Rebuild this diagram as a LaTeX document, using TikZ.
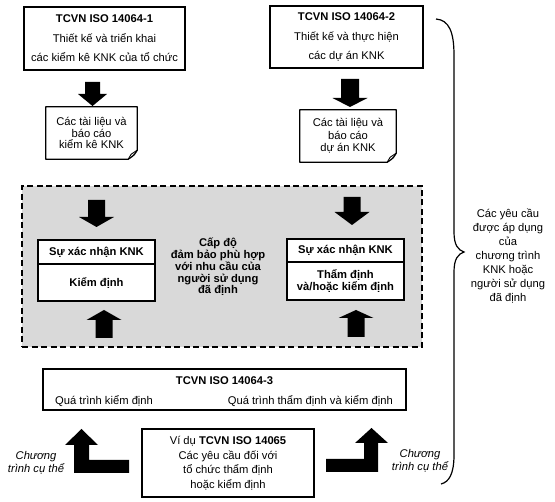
\documentclass[tikz,border=0pt]{standalone}
\usepackage{fontspec}
\setmainfont{Liberation Sans}
\newcommand\varrow[6]{%
  \fill[black] ({#1-#5/2},#2) -- ({#1-#5/2},#3) -- ({#1-#6/2},#3) -- (#1,#4) -- ({#1+#6/2},#3) -- ({#1+#5/2},#3) -- ({#1+#5/2},#2) -- cycle;}
\newcommand\docshape[1]{%
  \draw[line width=1.3pt, line join=round] (#1.north west) -- (#1.north east) -- ([yshift=9pt]#1.south east)
     .. controls ([xshift=-3pt,yshift=4pt]#1.south east) .. ([xshift=-9pt]#1.south east) -- (#1.south west) -- cycle;
  \draw[line width=0.9pt] ([xshift=-9pt]#1.south east) -- ([xshift=-6pt,yshift=5pt]#1.south east) -- ([yshift=9pt]#1.south east);}
\begin{document}
\begin{tikzpicture}[x=1pt,y=-1pt,
  every node/.style={inner sep=0pt, font=\fontsize{11.2}{12}\selectfont},
  frame/.style={draw, line width=1.4pt, fill=white, align=center},
  docnode/.style={align=center},
  ital/.style={align=center, font=\fontsize{11.2}{12.5}\selectfont\itshape}]
\useasboundingbox (0,0) rectangle (555,502);

% top boxes
\node[frame, minimum width=161pt, minimum height=63pt, font=\fontsize{11.2}{19.5}\selectfont] (b1) at (104.5,38.5)
  {\textbf{TCVN ISO 14064-1}\\Thiết kế và triển khai\\các kiểm kê KNK của tổ chức};
\node[frame, minimum width=153pt, minimum height=62pt, font=\fontsize{11.2}{19.5}\selectfont] (b2) at (346.5,37)
  {\textbf{TCVN ISO 14064-2}\\Thiết kế và thực hiện\\các dự án KNK};

% arrows to documents
\varrow{92.5}{82}{94}{106}{15}{29}
\varrow{350}{79}{98}{107}{18}{35}

% documents
\node[docnode, minimum width=91pt, minimum height=52pt, font=\fontsize{11.2}{11.5}\selectfont] (d1) at (91.5,133)
  {Các tài liệu và\\báo cáo\\kiểm kê KNK};
\docshape{d1}
\node[docnode, minimum width=96pt, minimum height=52pt, font=\fontsize{11.2}{12.5}\selectfont] (d2) at (348,136)
  {Các tài liệu và\\báo cáo\\dự án KNK};
\docshape{d2}

% dashed zone
\node[draw, dash pattern=on 6pt off 3.5pt, line width=1.4pt, fill=black!15,
      minimum width=400pt, minimum height=161pt] (zone) at (222,266.5) {};

\varrow{96.5}{200}{217}{227}{17}{35}
\varrow{352}{197}{212}{225}{17}{35}
\varrow{104}{338}{320}{310}{17}{35}
\varrow{356}{337}{318}{310}{17}{35}

\node[frame, minimum width=117pt, minimum height=24pt] (v1) at (96.5,252) {\textbf{Sự xác nhận KNK}};
\node[frame, minimum width=117pt, minimum height=37pt] (k1) at (96.5,282.5) {\textbf{Kiểm định}};
\node[frame, minimum width=117pt, minimum height=23pt] (v2) at (345.5,250.5) {\textbf{Sự xác nhận KNK}};
\node[frame, minimum width=117pt, minimum height=38pt] (k2) at (345.5,281) {\textbf{Thẩm định}\\\textbf{và/hoặc kiểm định}};

\node[align=center, font=\fontsize{11.2}{11.8}\selectfont\bfseries] (lvl) at (218,267)
  {Cấp độ\\đảm bảo phù hợp\\với nhu cầu của\\người sử dụng\\đã định};

% TCVN ISO 14064-3
\node[frame, minimum width=363pt, minimum height=41pt] (b3) at (224.5,389.5) {};
\node[anchor=center] (b3t) at (224.5,381) {\textbf{TCVN ISO 14064-3}};
\node[anchor=west] (b3l) at (55,401) {Quá trình kiểm định};
\node[anchor=east] (b3r) at (393,401) {Quá trình thẩm định và kiểm định};

% TCVN ISO 14065
\node[frame, minimum width=172pt, minimum height=68pt, font=\fontsize{11.2}{14.5}\selectfont] (b4) at (228,463)
  {Ví dụ \textbf{TCVN ISO 14065}\\Các yêu cầu đối với\\tổ chức thẩm định\\hoặc kiểm định};

% L-shaped arrows
\fill[black] (129,460) -- (89,460) -- (89,445) -- (98,445) -- (81.5,429) -- (65,445) -- (74,445) -- (74,473) -- (129,473) -- cycle;
\fill[black] (326,459) -- (364,459) -- (364,443) -- (355,443) -- (371.5,428) -- (388,443) -- (378,443) -- (378,472) -- (326,472) -- cycle;

\node[ital] (pl) at (36,463) {Chương\\trình cụ thể};
\node[ital] (pr) at (420,461) {Chương\\trình cụ thể};

% brace
\draw[line width=1.2pt] (436,19) .. controls (449,20) and (454,32) .. (454,55) -- (454,232)
  .. controls (454,245) and (458,250) .. (464,252)
  .. controls (458,254) and (454,259) .. (454,272) -- (454,455)
  .. controls (454,474) and (449,482) .. (441,484);
\node[align=center, font=\fontsize{11.2}{14}\selectfont] (req) at (508,256)
  {Các yêu cầu\\được áp dụng\\của\\chương trình\\KNK hoặc\\người sử dụng\\đã định};
\end{tikzpicture}
\end{document}
